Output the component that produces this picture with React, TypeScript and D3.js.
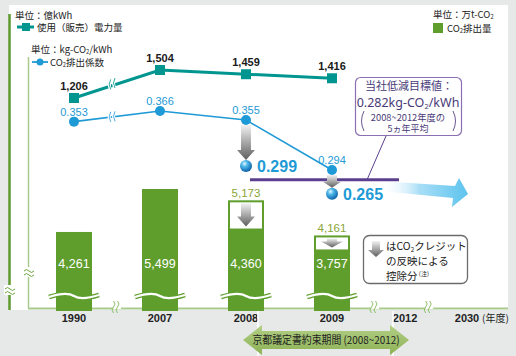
import React from "react";
import * as d3 from "d3";

const years = ["1990", "2007", "2008", "2009"];
const emissions = [4261, 5499, 4360, 3757];
const emissionsBeforeCredit: (number | null)[] = [null, null, 5173, 4161];
const power = [1206, 1504, 1459, 1416];
const factor = [0.353, 0.366, 0.355, 0.294];
const factorAdjusted: (number | null)[] = [null, null, 0.299, 0.265];
const targetFactor = 0.282;
const axisYears = ["1990", "2007", "2008", "2009", "2012", "2030"];
const axisSlots = [0, 1, 2, 3, 3.85, 4.57];
const axisBreakSlots = [0.5, 3.5, 4.13];

const JP = "'Noto Sans CJK JP', 'Noto Sans', sans-serif";
const LAT = "'Noto Sans', 'Liberation Sans', sans-serif";
const NUM = "'Liberation Sans Narrow', 'Liberation Sans', Arial, sans-serif";
const GREEN = "#5f9e2d";
const TEAL = "#00968f";
const BLUE = "#1e9ad6";
const PURPLE = "#5b3f8f";

const x = d3.scaleLinear().domain([0, 3]).range([74, 332]);
const yBar = d3.scaleLinear().domain([2070, 5499]).range([308, 189]);
const yPow = d3.scaleLinear().domain([1206, 1504]).range([98, 70]);
const yFac = d3.scaleLinear().domain([0.294, 0.366]).range([170, 111]);
const BW = 36;

const fmt = d3.format(",");

function downArrow(cx: number, y0: number, y1: number, shaftW: number, headW: number, headL: number) {
  const p = d3.path();
  p.moveTo(cx - shaftW / 2, y0);
  p.lineTo(cx + shaftW / 2, y0);
  p.lineTo(cx + shaftW / 2, y1 - headL);
  p.lineTo(cx + headW / 2, y1 - headL);
  p.lineTo(cx, y1);
  p.lineTo(cx - headW / 2, y1 - headL);
  p.lineTo(cx - shaftW / 2, y1 - headL);
  p.closePath();
  return p.toString();
}

function wave(x0: number, x1: number, y: number) {
  const w = x1 - x0;
  const p = d3.path();
  p.moveTo(x0, y + 1);
  p.bezierCurveTo(x0 + w * 0.25, y - 3, x0 + w * 0.4, y - 3, x0 + w * 0.5, y);
  p.bezierCurveTo(x0 + w * 0.6, y + 3, x0 + w * 0.75, y + 3, x1, y - 1);
  return p.toString();
}

function vBreak(cx: number, cy: number, key: string) {
  const one = (dx: number) => `M${cx + dx - 1.5},${cy - 6} q3,3 0,6 q-3,3 0,6`;
  return (
    <g key={key}>
      <rect x={cx - 4} y={cy - 2} width={8} height={4} fill="white" />
      <path d={one(-2)} fill="none" stroke="#8fbf6a" strokeWidth={1} />
      <path d={one(2)} fill="none" stroke="#8fbf6a" strokeWidth={1} />
    </g>
  );
}

function hBreak(cx: number, cy: number, key: string) {
  const one = (dy: number) => `M${cx - 5},${cy + dy + 1} q2.5,-3 5,0 q2.5,3 5,0`;
  return (
    <g key={key}>
      <rect x={cx - 6} y={cy - 5} width={12} height={10} fill="white" />
      <path d={one(-2)} fill="none" stroke="#6aa33a" strokeWidth={1} />
      <path d={one(2)} fill="none" stroke="#6aa33a" strokeWidth={1} />
    </g>
  );
}

function Sub({ children, size }: { children: string; size: number }) {
  return (
    <tspan fontSize={size * 0.6} dy={size * 0.15}>
      {children}
    </tspan>
  );
}

export default function App() {
  const powLine = d3
    .line<number>()
    .x((_, i) => x(i))
    .y((d) => yPow(d));
  const facLine = d3
    .line<number>()
    .x((_, i) => x(i))
    .y((d) => yFac(d));

  return (
    <svg width={516} height={356} style={{ position: "absolute", left: 0, top: 0 }} fontFamily={JP}>
      <defs>
        <linearGradient id="grayArrow" x1="0" y1="0" x2="0" y2="1">
          <stop offset="0" stopColor="#f2f2f2" />
          <stop offset="0.55" stopColor="#a0a0a0" />
          <stop offset="1" stopColor="#5e5e5e" />
        </linearGradient>
        <radialGradient id="sphere" cx="0.38" cy="0.32" r="0.7">
          <stop offset="0" stopColor="#e8f7ff" />
          <stop offset="0.35" stopColor="#4fb8ea" />
          <stop offset="1" stopColor="#0a5fa8" />
        </radialGradient>
        <linearGradient id="bigArrow" x1="0" y1="0" x2="1" y2="0">
          <stop offset="0" stopColor="#ffffff" stopOpacity={0} />
          <stop offset="0.45" stopColor="#a8def6" />
          <stop offset="1" stopColor="#5cc3ee" />
        </linearGradient>
        <linearGradient id="banner" x1="0" y1="0" x2="0" y2="1">
          <stop offset="0" stopColor="#b3cf86" />
          <stop offset="1" stopColor="#8db255" />
        </linearGradient>
      </defs>

      {/* background */}
      <rect x={0} y={0} width={516} height={356} fill="#e6e9e8" />
      <rect x={9} y={5} width={499} height={305} fill="#ffffff" />

      {/* left axes */}
      <line x1={9.5} y1={14} x2={9.5} y2={310} stroke="#5e9a2e" strokeWidth={2.5} />
      <line x1={28.5} y1={57} x2={28.5} y2={308} stroke="#a9c98d" strokeWidth={1.5} />
      <line x1={28} y1={308.5} x2={508} y2={308.5} stroke="#a9c98d" strokeWidth={2} />
      {hBreak(10, 290, "hb1")}
      {hBreak(29, 272, "hb2")}

      {/* bars */}
      {years.map((yr, i) => {
        const cx = x(i);
        const before = emissionsBeforeCredit[i];
        const top = yBar(emissions[i]);
        const big = before != null && before - emissions[i] > 600;
        return (
          <g key={"bar" + yr}>
            {before != null && (
              <rect
                x={cx - BW / 2 + 1}
                y={yBar(before) + 1}
                width={BW - 2}
                height={308 - yBar(before)}
                fill="white"
                stroke={GREEN}
                strokeWidth={2}
              />
            )}
            <rect x={cx - BW / 2} y={top} width={BW} height={311 - top} fill={GREEN} />
            {before != null && (
              <path
                d={downArrow(cx, yBar(before) + 3, top - 2, 10, big ? 18 : 22, big ? 10 : 6)}
                fill="url(#grayArrow)"
              />
            )}
            {before != null && (
              <text x={cx} y={yBar(before) - 3} textAnchor="middle" fontFamily={NUM} fontSize={11.5} fill="#8aa538">
                {fmt(before)}
              </text>
            )}
            <text x={cx} y={268} textAnchor="middle" fontFamily={NUM} fontSize={12.5} fill="white">
              {fmt(emissions[i])}
            </text>
            <path d={wave(cx - BW / 2 - 7, cx + BW / 2 + 7, 296)} fill="none" stroke={GREEN} strokeWidth={4.5} />
            <path d={wave(cx - BW / 2 - 7, cx + BW / 2 + 7, 296)} fill="none" stroke="white" strokeWidth={2.2} />
          </g>
        );
      })}

      {/* axis breaks */}
      {axisBreakSlots.map((s, i) => vBreak(x(s), 307, "vb" + i))}

      {/* power line */}
      <path d={powLine(power) || ""} fill="none" stroke={TEAL} strokeWidth={3} />
      {power.map((v, i) => (
        <g key={"pw" + i}>
          <rect x={x(i) - 5} y={yPow(v) - 5} width={10} height={10} fill={TEAL} />
          <text
            x={x(i)}
            y={yPow(v) - 8}
            textAnchor="middle"
            fontFamily={NUM}
            fontWeight="bold"
            fontSize={11}
            fill="#1a1a1a"
          >
            {fmt(v)}
          </text>
        </g>
      ))}

      {/* factor line */}
      <path d={facLine(factor) || ""} fill="none" stroke={BLUE} strokeWidth={1.6} />
      {[0.45, 0.5].map((s, k) => (
        <g key={"lb" + k}>
          <path
            d={`M${x(s) - 2},${yPow(1206 + (1504 - 1206) * s) - 6} q-3,5 0,10`}
            fill="none"
            stroke="white"
            strokeWidth={3}
          />
          <path
            d={`M${x(s) - 2},${yPow(1206 + (1504 - 1206) * s) - 6} q-3,5 0,10`}
            fill="none"
            stroke={TEAL}
            strokeWidth={0.8}
          />
          <path
            d={`M${x(s) - 2},${yFac(0.353 + 0.013 * s) - 5} q-3,5 0,10`}
            fill="none"
            stroke="white"
            strokeWidth={3}
          />
          <path
            d={`M${x(s) - 2},${yFac(0.353 + 0.013 * s) - 5} q-3,5 0,10`}
            fill="none"
            stroke={BLUE}
            strokeWidth={0.8}
          />
        </g>
      ))}

      {/* target line and big arrow */}
      <path d="M380,181 L455,186 L459,178 L468,194 L452,207 L453,198 L380,191 Z" fill="url(#bigArrow)" />
      <line
        x1={x(2) + 4}
        x2={399}
        y1={yFac(targetFactor)}
        y2={yFac(targetFactor)}
        stroke={PURPLE}
        strokeWidth={3}
      />

      {/* adjusted arrows */}
      {factorAdjusted.map((v, i) =>
        v == null ? null : (
          <path
            key={"fa" + i}
            d={downArrow(x(i), yFac(factor[i]) + 5, yFac(v) - 6, 10, 18, i === 2 ? 10 : 6)}
            fill="url(#grayArrow)"
          />
        )
      )}

      {factor.map((v, i) => (
        <g key={"fc" + i}>
          <circle cx={x(i)} cy={yFac(v)} r={5} fill={BLUE} />
          <text x={x(i)} y={yFac(v) - 6} textAnchor="middle" fontFamily={NUM} fontSize={11} fill={BLUE}>
            {v.toFixed(3)}
          </text>
        </g>
      ))}

      {factorAdjusted.map((v, i) =>
        v == null ? null : (
          <g key={"fs" + i}>
            <circle cx={x(i)} cy={yFac(v)} r={6} fill="url(#sphere)" />
            <text x={x(i) + 11} y={yFac(v) + 6} fontFamily={NUM} fontWeight="bold" fontSize={16} fill={BLUE}>
              {v.toFixed(3)}
            </text>
          </g>
        )
      )}

      {/* target callout */}
      <line x1={386} y1={136} x2={367} y2={yFac(targetFactor)} stroke={PURPLE} strokeWidth={1} />
      <rect x={355.5} y={77.5} width={106} height={58} rx={5} fill="white" stroke="#8a70b3" strokeWidth={1.2} />
      <text x={409} y={90} textAnchor="middle" fontSize={11} fill="#4a3b78">
        当社低減目標値：
      </text>
      <text x={408} y={106.5} textAnchor="middle" fontFamily={LAT} fontSize={12.5} fill="#4a3b78">
        0.282kg-CO
        <tspan fontSize={7.5} dy={2}>
          2
        </tspan>
        <tspan dy={-2}>/kWh</tspan>
      </text>
      <text x={408} y={120.5} textAnchor="middle" fontSize={9.3} fill="#4a3b78">
        2008~2012年度の
      </text>
      <text x={408} y={132} textAnchor="middle" fontSize={9} fill="#4a3b78">
        5ヵ年平均
      </text>
      <path d="M364,111 q-5,10 0,20" fill="none" stroke="#6a5a90" strokeWidth={1} />
      <path d="M453,111 q5,10 0,20" fill="none" stroke="#6a5a90" strokeWidth={1} />

      {/* credit note */}
      <rect x={363.5} y={235.5} width={104} height={48} rx={6} fill="white" stroke="#6b6b6b" strokeWidth={1.3} />
      <path d={downArrow(376, 241, 257, 8, 16, 7)} fill="url(#grayArrow)" />
      <text fontSize={10.5} fill="#222">
        <tspan x={386} y={250}>
          はCO
        </tspan>
        <tspan fontSize={6.3} dy={1.6}>
          2
        </tspan>
        <tspan dy={-1.6}>クレジット</tspan>
        <tspan x={386} y={265}>
          の反映による
        </tspan>
        <tspan x={386} y={280}>
          控除分
        </tspan>
        <tspan fontSize={6} dy={-4}>
          {" "}(注)
        </tspan>
      </text>

      {/* legends */}
      <text x={15} y={19} fontSize={9.5} fill="#222">
        単位：億kWh
      </text>
      <line x1={17} y1={27} x2={34} y2={27} stroke={TEAL} strokeWidth={3} />
      <rect x={22} y={23} width={8} height={8} fill={TEAL} />
      <text x={37} y={31} fontSize={9.5} fill="#222">
        使用（販売）電力量
      </text>
      <text x={31} y={53} fontSize={9.5} fill="#222">
        単位：kg-CO<Sub size={9.5}>2</Sub>
        <tspan dy={-9.5 * 0.15}>/kWh</tspan>
      </text>
      <line x1={32} y1={62} x2={48} y2={62} stroke={BLUE} strokeWidth={1.8} />
      <circle cx={40} cy={62} r={3.5} fill={BLUE} />
      <text x={50} y={66} fontSize={9.5} fill="#222">
        CO<Sub size={9.5}>2</Sub>
        <tspan dy={-9.5 * 0.15}>排出係数</tspan>
      </text>
      <text x={433} y={18} fontSize={9.5} fill="#222">
        単位：万t-CO<Sub size={9.5}>2</Sub>
      </text>
      <rect x={433} y={23} width={10} height={10} fill={GREEN} />
      <text x={447} y={32} fontSize={9.5} fill="#222">
        CO<Sub size={9.5}>2</Sub>
        <tspan dy={-9.5 * 0.15}>排出量</tspan>
      </text>

      {/* x axis labels */}
      {axisYears.map((yr, i) => (
        <text
          key={"xl" + yr}
          x={x(axisSlots[i])}
          y={322}
          textAnchor="middle"
          fontFamily={NUM}
          fontWeight="bold"
          fontSize={11}
          fill="#222"
        >
          {yr}
        </text>
      ))}
      <text x={x(axisSlots[5]) + 15} y={322} fontSize={10} fill="#222">
        (年度)
      </text>

      {/* Kyoto banner */}
      <line x1={258} y1={311} x2={258} y2={356} stroke="white" strokeWidth={1.5} />
      <line x1={393} y1={311} x2={393} y2={356} stroke="white" strokeWidth={1.5} />
      <path
        d="M243,340 L262,325 L262,331 L390,331 L390,325 L409,340 L390,355 L390,349 L262,349 L262,355 Z"
        fill="url(#banner)"
      />
      <text
        x={326}
        y={344}
        textAnchor="middle"
        fontSize={11}
        fill="#222"
        textLength={147}
        lengthAdjust="spacingAndGlyphs"
      >
        京都議定書約束期間 (2008~2012)
      </text>
    </svg>
  );
}
